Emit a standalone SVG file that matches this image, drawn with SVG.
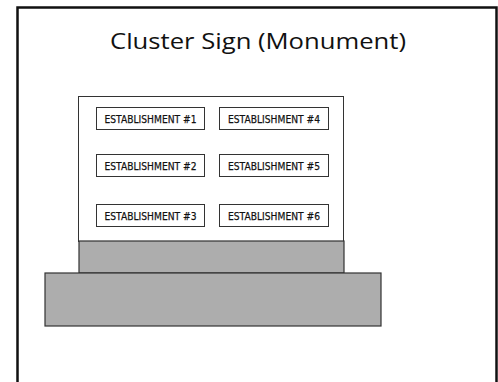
<svg xmlns="http://www.w3.org/2000/svg" width="498" height="382" viewBox="0 0 498 382">
<style>
.est rect{fill:#fff;stroke:#333;stroke-width:1}
.est text{font-family:"DejaVu Sans",sans-serif;font-size:10.5px;fill:#111;stroke:#111;stroke-width:0.25;text-anchor:middle}
.grey{fill:#adadad;stroke:#333;stroke-width:1.2}
</style>
<rect width="498" height="382" fill="#fff"/>
<rect id="frame" x="17.5" y="7.5" width="479" height="380" fill="#fff" stroke="#111" stroke-width="2.5"/>
<text id="title" x="258" y="48.5" font-family="'Open Sans','Liberation Sans',sans-serif" font-size="21" fill="#111" text-anchor="middle" textLength="296" lengthAdjust="spacingAndGlyphs">Cluster Sign (Monument)</text>
<g id="sign">
<rect x="78.5" y="96.5" width="265" height="145" fill="#fff" stroke="#333" stroke-width="1"/>
</g>
<g id="band"><rect class="grey" x="79" y="241" width="265" height="32"/></g>
<g id="base"><rect class="grey" x="45" y="273" width="336" height="53"/></g>
<g id="est1" class="est"><rect x="96.5" y="107.5" width="108" height="22"/><text x="150.5" y="122.5" textLength="92" lengthAdjust="spacingAndGlyphs">ESTABLISHMENT #1</text></g>
<g id="est4" class="est"><rect x="219.5" y="107.5" width="109" height="22"/><text x="274" y="122.5" textLength="92" lengthAdjust="spacingAndGlyphs">ESTABLISHMENT #4</text></g>
<g id="est2" class="est"><rect x="96.5" y="154.5" width="108" height="22"/><text x="150.5" y="169.5" textLength="92" lengthAdjust="spacingAndGlyphs">ESTABLISHMENT #2</text></g>
<g id="est5" class="est"><rect x="219.5" y="154.5" width="109" height="22"/><text x="274" y="169.5" textLength="92" lengthAdjust="spacingAndGlyphs">ESTABLISHMENT #5</text></g>
<g id="est3" class="est"><rect x="96.5" y="204.5" width="108" height="22"/><text x="150.5" y="219.5" textLength="92" lengthAdjust="spacingAndGlyphs">ESTABLISHMENT #3</text></g>
<g id="est6" class="est"><rect x="219.5" y="204.5" width="109" height="22"/><text x="274" y="219.5" textLength="92" lengthAdjust="spacingAndGlyphs">ESTABLISHMENT #6</text></g>
<g id="connectors"/>
</svg>
